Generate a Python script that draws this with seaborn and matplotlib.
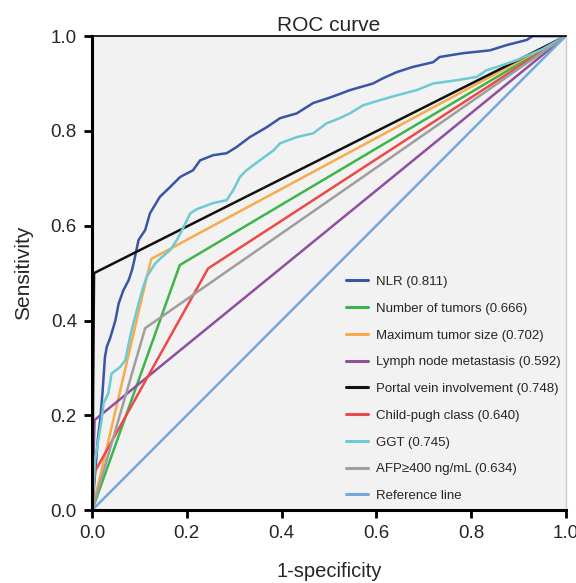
import pandas as pd
import seaborn as sns
import matplotlib.pyplot as plt

# ROC points (1-specificity, sensitivity)
nlr_fpr = [0.0, 0.008, 0.012, 0.017, 0.022, 0.027, 0.031, 0.038, 0.049, 0.056, 0.066,
           0.077, 0.084, 0.089, 0.092, 0.098, 0.112, 0.122, 0.143, 0.165, 0.186, 0.213,
           0.228, 0.256, 0.284, 0.305, 0.333, 0.369, 0.397, 0.432, 0.467, 0.498, 0.523,
           0.544, 0.593, 0.614, 0.643, 0.677, 0.72, 0.734, 0.783, 0.84, 0.875, 0.918,
           0.93, 1.0]
nlr_tpr = [0.0, 0.10, 0.15, 0.19, 0.25, 0.323, 0.345, 0.363, 0.40, 0.436, 0.464,
           0.485, 0.506, 0.527, 0.542, 0.570, 0.591, 0.626, 0.661, 0.682, 0.703, 0.717,
           0.738, 0.749, 0.753, 0.766, 0.787, 0.808, 0.827, 0.837, 0.859, 0.869, 0.878,
           0.886, 0.900, 0.911, 0.924, 0.935, 0.945, 0.956, 0.964, 0.970, 0.981, 0.992,
           1.0, 1.0]

ggt_fpr = [0.0, 0.006, 0.02, 0.024, 0.034, 0.041, 0.059, 0.07, 0.08, 0.087, 0.098,
           0.108, 0.115, 0.133, 0.143, 0.165, 0.179, 0.193, 0.207, 0.221, 0.256, 0.284,
           0.298, 0.312, 0.326, 0.354, 0.383, 0.397, 0.432, 0.467, 0.495, 0.523, 0.544,
           0.572, 0.608, 0.643, 0.685, 0.72, 0.77, 0.812, 0.833, 0.867, 0.896, 0.95, 1.0]
ggt_tpr = [0.0, 0.105, 0.19, 0.225, 0.246, 0.288, 0.302, 0.316, 0.365, 0.394, 0.436,
           0.471, 0.492, 0.520, 0.530, 0.549, 0.570, 0.597, 0.626, 0.635, 0.648, 0.654,
           0.675, 0.703, 0.717, 0.738, 0.759, 0.774, 0.787, 0.795, 0.816, 0.827, 0.837,
           0.854, 0.865, 0.875, 0.886, 0.900, 0.907, 0.914, 0.928, 0.939, 0.949, 0.972, 1.0]

tumors_fpr = [0.0, 0.185, 1.0]
tumors_tpr = [0.0, 0.517, 1.0]

size_fpr = [0.0, 0.115, 0.125, 1.0]
size_tpr = [0.0, 0.49, 0.53, 1.0]

lymph_fpr = [0.0, 0.005, 1.0]
lymph_tpr = [0.0, 0.19, 1.0]

portal_fpr = [0.0, 0.004, 1.0]
portal_tpr = [0.0, 0.50, 1.0]

child_fpr = [0.0, 0.005, 0.245, 1.0]
child_tpr = [0.0, 0.08, 0.51, 1.0]

afp_fpr = [0.0, 0.112, 1.0]
afp_tpr = [0.0, 0.384, 1.0]

ref_fpr = [0.0, 1.0]
ref_tpr = [0.0, 1.0]

labels = [
    "NLR (0.811)",
    "Number of tumors (0.666)",
    "Maximum tumor size (0.702)",
    "Lymph node metastasis (0.592)",
    "Portal vein involvement (0.748)",
    "Child-pugh class (0.640)",
    "GGT (0.745)",
    "AFP\u2265400 ng/mL (0.634)",
    "Reference line",
]
colors = ["#3b55a5", "#3db54a", "#f9aa4c", "#8e4f9e", "#111111",
          "#ef4848", "#6ccad3", "#9e9e9e", "#72a9dc"]


def main() -> None:
    curves = [
        (nlr_fpr, nlr_tpr), (tumors_fpr, tumors_tpr), (size_fpr, size_tpr),
        (lymph_fpr, lymph_tpr), (portal_fpr, portal_tpr), (child_fpr, child_tpr),
        (ggt_fpr, ggt_tpr), (afp_fpr, afp_tpr), (ref_fpr, ref_tpr),
    ]
    frames = []
    for lab, (fx, ty) in zip(labels, curves):
        frames.append(pd.DataFrame({"fpr": fx, "tpr": ty, "Curve": lab}))
    datos = pd.concat(frames, ignore_index=True)

    sns.set_style("white")
    plt.rcParams["font.family"] = ["Liberation Sans", "DejaVu Sans"]

    fig, ax = plt.subplots(figsize=(5.76, 5.83), dpi=100)
    fig.subplots_adjust(left=0.16, right=0.982, top=0.938, bottom=0.125)
    ax.set_facecolor("#f2f2f2")

    sns.lineplot(
        data=datos, x="fpr", y="tpr", hue="Curve",
        hue_order=labels, palette=dict(zip(labels, colors)),
        estimator=None, sort=False, linewidth=1.8, ax=ax,
    )

    ax.set_xlim(0, 1)
    ax.set_ylim(0, 1)
    ticks = [0.0, 0.2, 0.4, 0.6, 0.8, 1.0]
    ax.set_xticks(ticks)
    ax.set_yticks(ticks)
    ax.set_xticklabels([f"{t:.1f}" for t in ticks])
    ax.set_yticklabels([f"{t:.1f}" for t in ticks])
    ax.tick_params(axis="both", direction="out", length=6, width=2,
                   labelsize=13.5, color="black", bottom=True, left=True, pad=5)

    ax.set_title("ROC curve", fontsize=15, pad=4)
    ax.set_xlabel("1-specificity", fontsize=14.5, labelpad=14)
    ax.set_ylabel("Sensitivity", fontsize=15, labelpad=13)

    for side in ["left", "bottom"]:
        ax.spines[side].set_linewidth(2.2)
        ax.spines[side].set_color("black")
    ax.spines["top"].set_linewidth(1.2)
    ax.spines["top"].set_color("black")
    ax.spines["right"].set_linewidth(1.0)
    ax.spines["right"].set_color("#cccccc")

    leg = ax.legend(
        loc="lower left", bbox_to_anchor=(0.525, 0.006), frameon=False,
        fontsize=9.5, handlelength=1.7, handletextpad=0.55, labelspacing=1.1,
        borderaxespad=0,
    )
    for line in leg.get_lines():
        line.set_linewidth(2.2)

    plt.savefig("out.png", dpi=100)


if __name__ == "__main__":
    main()
